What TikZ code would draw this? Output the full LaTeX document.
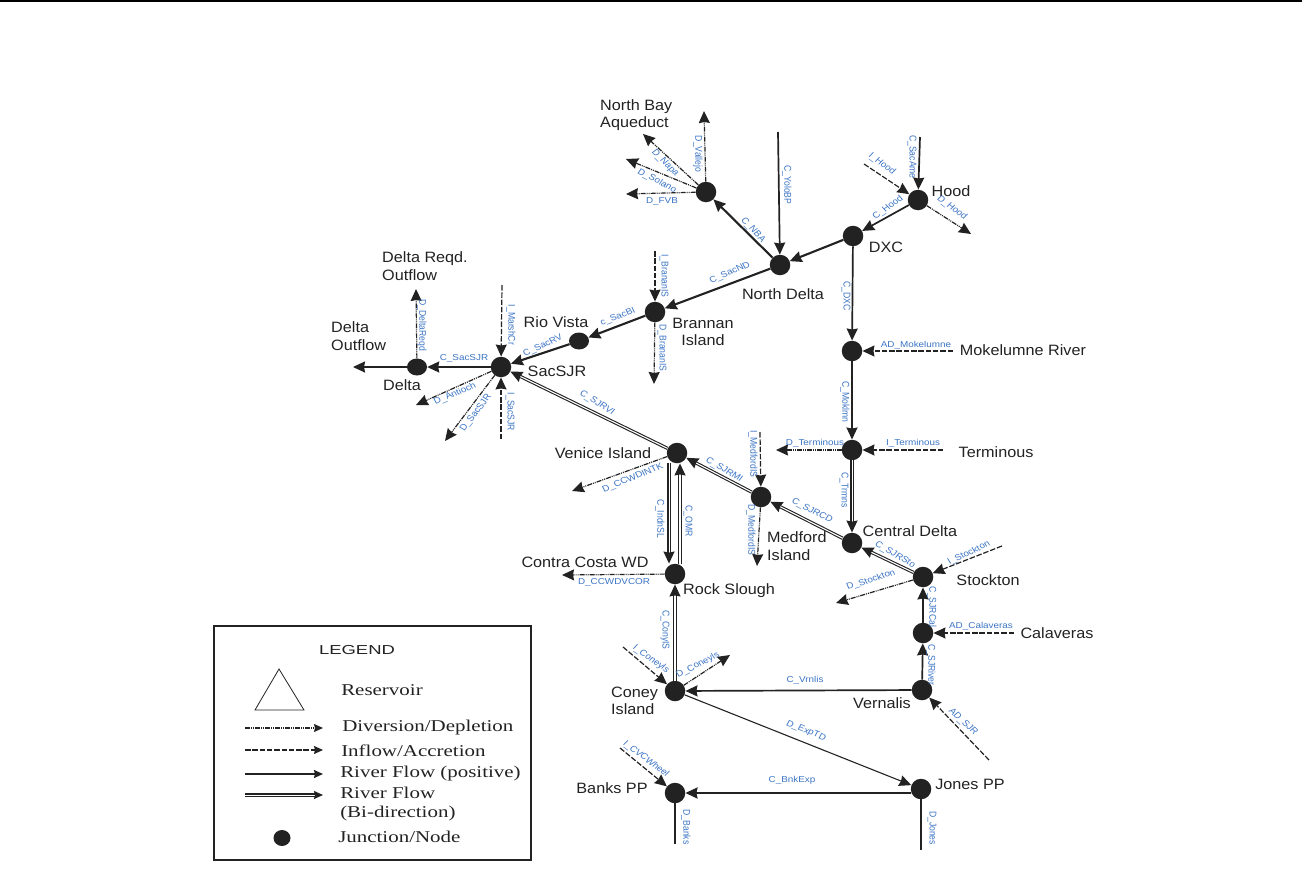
\documentclass[tikz,border=0pt]{standalone}
\usepackage{fontspec}
\setmainfont{Liberation Sans}
\newfontfamily\legendserif{Liberation Serif}
\usetikzlibrary{arrows.meta,shapes.geometric}
\definecolor{inkdark}{HTML}{222222}
\definecolor{flowblue}{HTML}{3B74C4}
\tikzset{
    junction/.style={circle, fill=inkdark, inner sep=0pt, minimum size=20.5pt},
    oval/.style={ellipse, fill=inkdark, inner sep=0pt, minimum width=20pt, minimum height=17pt},
    riverflow/.style={->, inkdark, line width=1.7pt},
    thickflow/.style={->, inkdark, line width=2.1pt},
    thinflow/.style={->, inkdark, line width=1.1pt},
    bidirflow/.style={->, inkdark, line width=1.1pt, double=white, double distance=1.1pt},
    heavybidir/.style={bidirflow, line width=1.3pt, double distance=0.7pt},
    diversion/.style={->, inkdark, line width=1.2pt, dash pattern=on 5pt off 1pt on 1pt off 1pt on 1pt off 1pt},
    inflow/.style={->, inkdark, line width=1.2pt, dash pattern=on 5.5pt off 1.8pt},
    flowlabel/.style={text=flowblue, inner sep=0pt, font=\fontsize{8.6}{10}\selectfont},
    place/.style={text=inkdark, inner sep=0pt, xscale=1.08, font=\fontsize{15}{17.5}\selectfont},
    legendtext/.style={text=inkdark, inner sep=0pt, anchor=west, align=left, xscale=1.27,
        font=\legendserif\fontsize{16.5}{19.5}\selectfont},
}
\begin{document}
\begin{tikzpicture}[x=1pt, y=-1pt, >={Stealth[length=12pt,width=11pt,inset=1pt]}]
    \useasboundingbox (0,0) rectangle (1302,894);
    \fill[black] (0,0) rectangle (1302,2);

    % Junctions
    \foreach \name/\x/\y in {northbay/706/192, hood/918/200, dxc/853/236, northdelta/780/265,
        brannan/655/312, sacsjr/501/367, mokelumne/852/351, terminous/852/450, venice/677/453,
        medford/761/497, centraldelta/852/543, rock/675/574, stockton/923/577, calaveras/923/633,
        coney/675/691, vernalis/922/690, banks/675/793, jones/921/789} {
        \node[junction] (\name) at (\x,\y) {};
    }
    \node[oval] (riovista) at (579,341) {};
    \node[oval] (delta) at (417,367) {};

    % Free ends
    \coordinate (vallejo) at (704,111);
    \coordinate (napa) at (643,134);
    \coordinate (solano) at (626,159);
    \coordinate (fvb) at (626,194);
    \coordinate (yolo) at (778,132);
    \coordinate (sacame) at (920,137);
    \coordinate (ihood) at (864,164);
    \coordinate (dhood) at (971,234);
    \coordinate (ibrannan) at (655,251);
    \coordinate (dbrannan) at (654,384);
    \coordinate (marsh) at (502,285);
    \coordinate (isacsjr) at (501,439);
    \coordinate (deltareqd) at (416,289);
    \coordinate (outflow) at (353,367);
    \coordinate (antioch) at (416,405);
    \coordinate (dsacsjr) at (445,441);
    \coordinate (ccwdintk) at (572,491);
    \coordinate (imedford) at (760,432);
    \coordinate (dmedford) at (757,566);
    \coordinate (ccwdvcor) at (562,575);
    \coordinate (dterm) at (776,450);
    \coordinate (iterm) at (943,450);
    \coordinate (admoke) at (953,351);
    \coordinate (istock) at (1002,546);
    \coordinate (dstock) at (836,603);
    \coordinate (adcal) at (1014,633);
    \coordinate (adsjr) at (989,760);
    \coordinate (iconey) at (623,647);
    \coordinate (dconey) at (730,655);
    \coordinate (icvc) at (620,748);
    \coordinate (dbanks) at (675,844);
    \coordinate (djones) at (921,850);

    % River flows
    \draw[riverflow] (yolo) -- (northdelta);
    \draw[riverflow] (sacame) -- (hood);
    \draw[riverflow] (hood) -- (dxc);
    \draw[thickflow] (dxc) -- (northdelta);
    \draw[thickflow] (northdelta) -- (northbay);
    \draw[thickflow] (northdelta) -- (brannan);
    \draw[thickflow] (brannan) -- (riovista);
    \draw[thickflow] (riovista) -- (sacsjr);
    \draw[riverflow] (sacsjr) -- (delta);
    \draw[riverflow] (delta) -- (outflow);
    \draw[riverflow] (dxc) -- (mokelumne);
    \draw[riverflow] (mokelumne) -- (terminous);
    \draw[riverflow] (calaveras) -- (stockton);
    \draw[riverflow] (vernalis) -- (calaveras);
    \draw[riverflow] (vernalis) -- (coney);
    \draw[thickflow] ([yshift=-4pt]jones.west) -- (banks);
    \draw[thinflow] (coney) -- (jones);
    \draw[inkdark, line width=1.7pt] (banks) -- (dbanks);
    \draw[inkdark, line width=1.7pt] (jones) -- (djones);

    % Bi-directional flows
    \draw[bidirflow] (venice) -- (sacsjr);
    \draw[bidirflow] (medford) -- (venice);
    \draw[bidirflow] (centraldelta) -- (medford);
    \draw[bidirflow] (stockton) -- (centraldelta);
    \draw[heavybidir] (terminous) -- (centraldelta);
    \draw[bidirflow] (coney) -- (rock);
    \draw[heavybidir] ([xshift=-8pt]venice.south) -- ([xshift=-6pt]rock.north);
    \draw[bidirflow] ([xshift=5pt]rock.north) -- ([xshift=3pt]venice.south);

    % Diversions
    \foreach \from/\to in {northbay/vallejo, northbay/napa, northbay/solano, northbay/fvb,
        hood/dhood, brannan/dbrannan, delta/deltareqd, sacsjr/antioch, sacsjr/dsacsjr,
        venice/ccwdintk, medford/dmedford, rock/ccwdvcor, terminous/dterm, stockton/dstock,
        coney/dconey} {
        \draw[diversion] (\from) -- (\to);
    }

    % Inflows
    \foreach \from/\to in {ihood/hood, ibrannan/brannan, marsh/sacsjr, isacsjr/sacsjr,
        imedford/medford, admoke/mokelumne, iterm/terminous, istock/stockton, adcal/calaveras,
        adsjr/vernalis, iconey/coney, icvc/banks} {
        \draw[inflow] (\from) -- (\to);
    }

    % Flow labels (stretched sideways, so the angle is corrected first)
    \foreach \x/\y/\ang/\txt [count=\k] in {
        698/154/-90/D\_Vallejo, 665/163/-45/D\_Napa, 657/181/-27/D\_Solano, 662/201/0/D\_FVB,
        787/185/-90/C\_YoloBP, 912/157/-90/C\_SacAme, 882/164/-36/I\_Hood, 888/208/35/C\_Hood,
        952/208/-37/D\_Hood, 753/230/-47/C\_NBA, 730/273/23/C\_SacND, 664/276/-90/I\_BrananIS,
        618/317/20/c\_SacBI, 846/296/-90/C\_DXC, 662/348/-90/D\_BrananIS, 916/345/0/AD\_Mokelumne,
        422/325/-90/D\_DeltaReqd, 464/358/0/C\_SacSJR, 511/325/-90/I\_MarshCr, 543/346/25/C\_SacRV,
        455/394/23/D\_Antioch, 476/413/52/D\_SacSJR, 510/412/-90/I\_SacSJR, 597/403/-32/C\_SJRVI,
        633/478/22/D\_CCWDINTK, 660/519/-90/C\_IndnSL, 688/521/-90/C\_OMR, 724/470/-30/C\_SJRMI,
        753/454/-90/I\_MedfordIS, 751/530/-90/D\_MedfordIS, 812/511/-27/C\_SJRCD, 614/582/0/D\_CCWDVCOR,
        665/630/-90/C\_ConyIS, 815/443/0/D\_Terminous, 913/443/0/I\_Terminous, 845/402/-90/C\_Moklmn,
        844/490/-90/C\_Trmns, 895/555/-30/C\_SJRSto, 969/553/25/I\_Stockton, 871/580/18/D\_Stockton,
        932/607/-90/C\_SJRCal, 981/626/0/AD\_Calaveras, 931/665/-90/C\_SJRiver, 963/722/-43/AD\_SJR,
        805/680/0/C\_Vrnlis, 806/731/-22/D\_ExpTD, 651/659/-35/I\_Coneyls, 698/665/27/D\_Coneyls,
        646/759/-37/I\_CVCWheel, 792/780/0/C\_BnkExp, 686/827/-90/D\_Banks, 932/828/-90/D\_Jones} {
        \pgfmathsetmacro\fixang{atan2(1.15*sin(\ang),cos(\ang))}
        \node[flowlabel, xscale=1.15, rotate=\fixang] (flow\k) at (\x,\y) {\txt};
    }

    % Place names
    \node[place, anchor=west, align=left] (pbay) at (600,115) {North Bay\\Aqueduct};
    \node[place] (phood) at (951,191) {Hood};
    \node[place] (pdxc) at (886,247) {DXC};
    \node[place] (pnorthdelta) at (783,294) {North Delta};
    \node[place, align=center] (pbrannan) at (703,332) {Brannan\\Island};
    \node[place] (prio) at (556,322) {Rio Vista};
    \node[place] (pmoke) at (1023,350) {Mokelumne River};
    \node[place] (pterm) at (996,452) {Terminous};
    \node[place] (pcentral) at (910,531) {Central Delta};
    \node[place, anchor=west, align=left] (pmedford) at (767,546) {Medford\\Island};
    \node[place] (pstock) at (988,580) {Stockton};
    \node[place] (pcal) at (1057,633) {Calaveras};
    \node[place] (pvenice) at (603,453) {Venice Island};
    \node[place] (pcontra) at (585,562) {Contra Costa WD};
    \node[place] (prock) at (729,591) {Rock Slough};
    \node[place] (psac) at (557,371) {SacSJR};
    \node[place, anchor=west, align=left] (preqd) at (382,266) {Delta Reqd.\\Outflow};
    \node[place, anchor=west, align=left] (poutflow) at (331,336) {Delta\\Outflow};
    \node[place] (pdelta) at (402,385) {Delta};
    \node[place, anchor=west, align=left] (pconey) at (611,701) {Coney\\Island};
    \node[place] (pvern) at (882,703) {Vernalis};
    \node[place] (pbanks) at (612,788) {Banks PP};
    \node[place] (pjones) at (970,784) {Jones PP};

    % Legend
    \begin{scope}[>={Stealth[length=9pt,width=8pt,inset=1pt]}]
        \draw[inkdark, line width=1.6pt] (214,626) rectangle (531,860);
        \node[text=inkdark, inner sep=0pt, xscale=1.42, font=\fontsize{13}{15}\selectfont] (legendhead) at (357,650) {LEGEND};
        \draw[inkdark, line width=0.8pt] (279,669) -- (255,710) -- (304,710) -- cycle;
        \node[legendtext] (lgres) at (341,690) {Reservoir};
        \coordinate (a1) at (245,728);
        \coordinate (b1) at (323,728);
        \coordinate (a2) at (245,750);
        \coordinate (b2) at (323,750);
        \coordinate (a3) at (245,774);
        \coordinate (b3) at (323,774);
        \coordinate (a4) at (245,795);
        \coordinate (b4) at (323,795);
        \draw[diversion] (a1) -- (b1);
        \draw[inflow] (a2) -- (b2);
        \draw[riverflow] (a3) -- (b3);
        \draw[heavybidir] (a4) -- (b4);
        \node[legendtext] (lgdiv) at (342,728) {Diversion/Depletion};
        \node[legendtext] (lginf) at (341,751) {Inflow/Accretion};
        \node[legendtext] (lgriv) at (340,774) {River Flow (positive)};
        \node[legendtext] (lgbi) at (340,804) {River Flow\\(Bi-direction)};
        \node[oval, minimum width=17pt, minimum height=16pt] (lgdot) at (282,838) {};
        \node[legendtext] (lgnode) at (338,837) {Junction/Node};
    \end{scope}
\end{tikzpicture}
\end{document}
